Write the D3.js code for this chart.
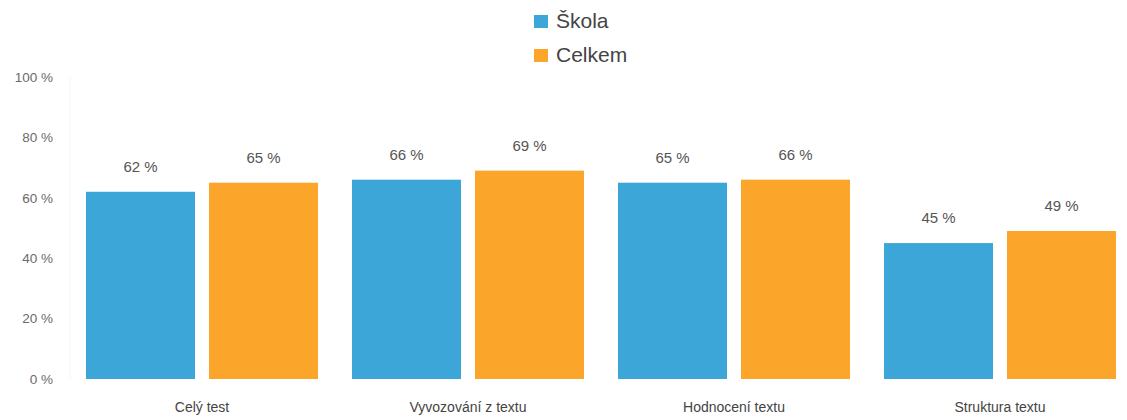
<!DOCTYPE html>
<html>
<head>
<meta charset="utf-8">
<script src="https://cdn.jsdelivr.net/npm/d3@7"></script>
<style>
  html, body { margin: 0; padding: 0; background: #fff; }
  svg { display: block; }
  text { font-family: "Liberation Sans", Arial, sans-serif; }
</style>
</head>
<body>
<svg id="chart" width="1127" height="420"></svg>
<script>
const categories = ["Celý test", "Vyvozování z textu", "Hodnocení textu", "Struktura textu"];
const seriesNames = ["Škola", "Celkem"];
const skola = [62, 66, 65, 45];
const celkem = [65, 69, 66, 49];
const yTicks = [0, 20, 40, 60, 80, 100];
const colors = ["#3ba6d7", "#fca52b"];

const svg = d3.select("#chart");
const seriesValues = [skola, celkem];

const x0 = d3.scaleBand().domain(categories).range([69, 1133])
  .paddingInner(34 / 266).paddingOuter(17 / 266);
const x1 = d3.scaleBand().domain(seriesNames).range([0, x0.bandwidth()])
  .paddingInner(14 / 123).paddingOuter(0);
const y = d3.scaleLinear().domain([0, 100]).range([379, 77]);

// faint axis line
svg.append("line").attr("x1", 70).attr("x2", 70).attr("y1", y(100)).attr("y2", y(0))
  .attr("stroke", "#f3f3f3").attr("stroke-width", 1);

// y axis
const yAxis = d3.axisLeft(y).tickValues(yTicks).tickFormat(d => d + " %").tickSize(0).tickPadding(0);
const gy = svg.append("g").attr("transform", "translate(53,0)").call(yAxis);
gy.select(".domain").remove();
gy.selectAll("text").attr("font-size", "13.5px").attr("fill", "#6a6a6a")
  .attr("font-family", "'Liberation Sans', Arial, sans-serif");

// x axis labels
const xAxis = d3.axisBottom(x0).tickSize(0).tickPadding(0);
const gx = svg.append("g").attr("transform", "translate(0,402)").call(xAxis);
gx.select(".domain").remove();
gx.selectAll("text").attr("font-size", "14px").attr("fill", "#444")
  .attr("font-family", "'Liberation Sans', Arial, sans-serif");

// bars
const groups = svg.append("g").selectAll("g").data(categories).join("g")
  .attr("transform", d => `translate(${x0(d)},0)`);

groups.each(function(cat, ci) {
  const g = d3.select(this);
  const data = seriesNames.map((s, si) => ({ s, si, v: seriesValues[si][ci] }));
  g.selectAll("rect").data(data).join("rect")
    .attr("x", d => x1(d.s))
    .attr("y", d => y(d.v))
    .attr("width", x1.bandwidth())
    .attr("height", d => y(0) - y(d.v))
    .attr("fill", d => colors[d.si]);
  g.selectAll("text.val").data(data).join("text")
    .attr("class", "val")
    .attr("x", d => x1(d.s) + x1.bandwidth() / 2)
    .attr("y", d => y(d.v) - 20)
    .attr("text-anchor", "middle")
    .attr("font-size", "15px")
    .attr("fill", "#555")
    .text(d => d.v + " %");
});

// legend
const legend = svg.append("g").selectAll("g").data(seriesNames).join("g")
  .attr("transform", (d, i) => `translate(534,${15 + i * 34})`);
legend.append("rect").attr("width", 14).attr("height", 13)
  .attr("fill", (d, i) => colors[i]);
legend.append("text").attr("x", 22).attr("y", 13)
  .attr("font-size", "21px").attr("fill", "#444").text(d => d);
</script>
</body>
</html>
